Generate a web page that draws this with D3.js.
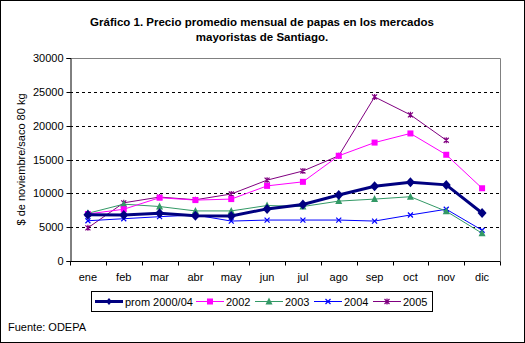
<!DOCTYPE html>
<html>
<head>
<meta charset="utf-8">
<script src="https://cdn.jsdelivr.net/npm/d3@7"></script>
<style>
  html, body { margin: 0; padding: 0; background: #fff; }
  svg { display: block; font-family: Arial, "Liberation Sans", sans-serif; }
</style>
</head>
<body>
<svg id="chart" width="525" height="343"></svg>
<script>
// Monthly average prices of potatoes, Santiago wholesale markets
const months = ["ene", "feb", "mar", "abr", "may", "jun", "jul", "ago", "sep", "oct", "nov", "dic"];
const prom200004 = [6850, 6800, 7050, 6700, 6650, 7700, 8350, 9750, 11050, 11650, 11250, 7100];
const y2002 = [6950, 7650, 9350, 9000, 9150, 11100, 11700, 15550, 17500, 18850, 15700, 10750];
const y2003 = [7050, 8400, 8050, 7400, 7400, 8200, 8050, 8850, 9150, 9500, 7350, 4100];
const y2004 = [5950, 6250, 6550, 6800, 5900, 6050, 6050, 6050, 5900, 6800, 7650, 4550];
const y2005 = [4900, 8600, 9450, 9050, 9900, 11950, 13300, 15550, 24250, 21600, 17850, null];
const yTicks = [0, 5000, 10000, 15000, 20000, 25000, 30000];

const series = [
  { name: "prom 2000/04", values: prom200004, color: "#000080", width: 3, marker: "diamond", size: 9 },
  { name: "2002", values: y2002, color: "#FF00FF", width: 1, marker: "square", size: 6 },
  { name: "2003", values: y2003, color: "#339966", width: 1, marker: "triangle", size: 6 },
  { name: "2004", values: y2004, color: "#0000FF", width: 1, marker: "x", size: 5 },
  { name: "2005", values: y2005, color: "#800080", width: 1, marker: "star", size: 5 }
];

const svg = d3.select("#chart");
const W = 525, H = 343;
const plot = { left: 70, right: 500, top: 58, bottom: 261 };

// outer frame
svg.append("rect").attr("x", 0.5).attr("y", 0.5).attr("width", W - 1).attr("height", H - 1)
  .attr("fill", "#fff").attr("stroke", "#000");

// title
const title = svg.append("text").attr("text-anchor", "middle").attr("font-weight", "bold")
  .attr("font-size", 11.5).attr("fill", "#000");
title.append("tspan").attr("x", 262).attr("y", 26).text("Gráfico 1. Precio promedio mensual de papas en los mercados");
title.append("tspan").attr("x", 262).attr("y", 40.5).text("mayoristas de Santiago.");

const x = d3.scaleBand().domain(months).range([plot.left, plot.right]);
const y = d3.scaleLinear().domain([0, 30000]).range([plot.bottom, plot.top]);

// gridlines (dashed)
svg.append("g").selectAll("line").data(yTicks.filter(t => t > 0 && t < 30000)).join("line")
  .attr("x1", plot.left).attr("x2", plot.right)
  .attr("y1", d => Math.round(y(d)) + 0.5).attr("y2", d => Math.round(y(d)) + 0.5)
  .attr("stroke", "#000").attr("stroke-dasharray", "3,3");

// top and right frame in gray
svg.append("path")
  .attr("d", `M${plot.left},${plot.top + 0.5}H${plot.right + 0.5}V${plot.bottom}`)
  .attr("fill", "none").attr("stroke", "#808080");

// y axis
const yAxis = d3.axisLeft(y).tickValues(yTicks).tickSize(4).tickPadding(3).tickFormat(d3.format("d"));
const gy = svg.append("g").attr("transform", `translate(${plot.left + 0.5},0)`).call(yAxis);
gy.selectAll("text").attr("font-size", 11).attr("font-family", "Arial, 'Liberation Sans', sans-serif").attr("fill", "#000");
gy.selectAll("line, path").attr("stroke", "#000");
gy.selectAll(".tick").attr("transform", d => `translate(0,${Math.round(y(d)) + 0.5})`);

// x axis: ticks between categories
const gx = svg.append("g").attr("transform", `translate(0,${plot.bottom + 0.5})`);
gx.append("line").attr("x1", plot.left).attr("x2", plot.right + 0.5).attr("stroke", "#000");
const bounds = d3.range(months.length + 1).map(i => plot.left + i * x.step());
gx.selectAll("line.tk").data(bounds).join("line").attr("class", "tk")
  .attr("x1", d => Math.round(d) + 0.5).attr("x2", d => Math.round(d) + 0.5)
  .attr("y1", 0).attr("y2", 4).attr("stroke", "#000");
gx.selectAll("text").data(months).join("text")
  .attr("x", d => x(d) + x.bandwidth() / 2).attr("y", 19)
  .attr("text-anchor", "middle").attr("font-size", 11).attr("fill", "#000").text(d => d);

// y axis title
svg.append("text").attr("transform", `translate(25,${(plot.top + plot.bottom) / 2}) rotate(-90)`)
  .attr("text-anchor", "middle").attr("font-size", 11).attr("fill", "#000")
  .text("$ de noviembre/saco 80 kg");

function drawMarker(g, s, cx, cy) {
  const r = s.size / 2;
  if (s.marker === "diamond") {
    g.append("path").attr("d", `M${cx},${cy - r - 0.5}L${cx + r},${cy}L${cx},${cy + r + 0.5}L${cx - r},${cy}Z`).attr("fill", s.color);
  } else if (s.marker === "square") {
    g.append("rect").attr("x", cx - r).attr("y", cy - r).attr("width", s.size).attr("height", s.size).attr("fill", s.color);
  } else if (s.marker === "triangle") {
    g.append("path").attr("d", `M${cx},${cy - r - 1}L${cx + r + 0.5},${cy + r}L${cx - r - 0.5},${cy + r}Z`).attr("fill", s.color);
  } else if (s.marker === "x") {
    g.append("path").attr("d", `M${cx - r},${cy - r}L${cx + r},${cy + r}M${cx - r},${cy + r}L${cx + r},${cy - r}`)
      .attr("stroke", s.color).attr("stroke-width", 1.2);
  } else {
    g.append("path").attr("d", `M${cx - r},${cy - r}L${cx + r},${cy + r}M${cx - r},${cy + r}L${cx + r},${cy - r}M${cx},${cy - r - 0.5}L${cx},${cy + r + 0.5}`)
      .attr("stroke", s.color).attr("stroke-width", 1.2);
  }
}

const cxOf = d => x(d) + x.bandwidth() / 2;
const line = d3.line().defined(d => d[1] != null).x(d => cxOf(d[0])).y(d => y(d[1]));

// draw series so that the average is on top
const drawOrder = [series[4], series[3], series[2], series[1], series[0]];
drawOrder.forEach(s => {
  const pts = months.map((m, i) => [m, s.values[i]]);
  const g = svg.append("g");
  g.append("path").attr("d", line(pts)).attr("fill", "none").attr("stroke", s.color).attr("stroke-width", s.width);
  pts.filter(p => p[1] != null).forEach(p => drawMarker(g, s, cxOf(p[0]), y(p[1])));
});

// legend
const lg = svg.append("g");
lg.append("rect").attr("x", 91.5).attr("y", 291.5).attr("width", 341).attr("height", 20).attr("fill", "#fff").attr("stroke", "#000");
const legendX = [95, 196, 255, 314, 373];
series.forEach((s, i) => {
  const lx = legendX[i], ly = 301.5;
  lg.append("line").attr("x1", lx).attr("x2", lx + 28).attr("y1", ly).attr("y2", ly)
    .attr("stroke", s.color).attr("stroke-width", s.width);
  const small = Object.assign({}, s, { size: Math.min(s.size, 6) });
  drawMarker(lg, small, lx + 14, ly);
  lg.append("text").attr("x", lx + 30).attr("y", ly + 4).attr("font-size", 11).attr("fill", "#000").text(s.name);
});

// source
svg.append("text").attr("x", 8).attr("y", 331).attr("font-size", 11).attr("fill", "#000").text("Fuente: ODEPA");
</script>
</body>
</html>
